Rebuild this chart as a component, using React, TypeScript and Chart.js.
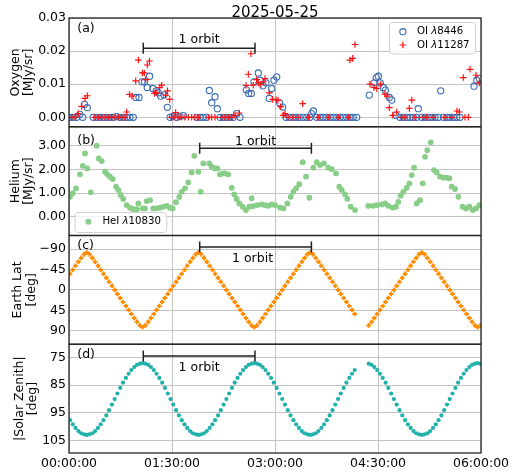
import React, { useEffect, useRef } from 'react';
import { Chart, registerables } from 'chart.js';
Chart.register(...registerables);

const W = 509;
const H = 472;
const LEFT = 69;
const RIGHT = 481;
const FONT = "'DejaVu Sans', 'Liberation Sans', sans-serif";
const GRID = '#c4c4c4';
const FRAME = '#262626';

// ---- time axis (minutes after 00:00:00) ----
const timeTickValues = [0, 90, 180, 270, 360];
const timeTickLabels = ['00:00:00', '01:30:00', '03:00:00', '04:30:00', '06:00:00'];

// ---- (a) Oxygen ----
const oxygenTicks = [0, 0.01, 0.02, 0.03];
const oxygenTickLabels = ['0.00', '0.01', '0.02', '0.03'];
const o8446Times = [
  0.9, 3.8, 6.7, 9.6, 12.0, 13.5, 16.0, 21.2, 24.2, 27.1,
  30.0, 32.9, 35.8, 38.7, 41.7, 44.6, 47.4, 50.4, 53.3, 56.2,
  58.5, 61.2, 63.8, 66.0, 68.4, 70.5, 73.4, 76.3, 78.0, 80.1,
  83.0, 85.9, 88.3, 90.6, 94.1, 97.0, 99.9, 111.6, 114.5, 117.4,
  120.3, 122.6, 124.7, 127.6, 129.6, 132.0, 134.8, 137.8, 140.7, 143.6,
  146.5, 149.4, 154.9, 157.0, 159.3, 161.7, 165.4, 166.9, 169.5, 172.1,
  175.0, 177.1, 179.1, 181.5, 184.1, 186.7, 189.6, 192.5, 195.5, 198.4,
  201.2, 204.7, 207.7, 210.6, 212.1, 213.5, 216.4, 219.3, 222.2, 225.2,
  228.1, 231.0, 233.9, 236.8, 239.7, 242.7, 245.5, 248.4, 251.4, 262.4,
  266.5, 268.5, 270.3, 272.0, 274.6, 276.4, 279.9, 282.0, 285.7, 289.2,
  292.1, 295.1, 298.0, 300.9, 303.8, 305.2, 308.2, 311.1, 314.0, 316.9,
  319.8, 322.7, 324.8, 327.1, 330.0, 332.9, 335.8, 338.8, 341.7, 353.9,
  356.3, 358.5,
];
const o8446Values = [
  0, 0, 0, 0.0009, 0, 0.0039, 0.0029, 0, 0, 0,
  0, 0, 0, 0, 0.0002, 0, 0, 0, 0, 0,
  0.006, 0.006, 0.0107, 0.0107, 0.009, 0.0124, 0.0087, 0.008, 0.0074, 0.0064,
  0.0068, 0.003, 0, 0.0003, 0, 0.0003, 0.0005, 0, 0, 0,
  0, 0.0081, 0.0044, 0.0062, 0.0026, 0, 0, 0, 0, 0,
  0.0011, 0, 0.0083, 0.0072, 0.0072, 0.0107, 0.0134, 0.0112, 0.0095, 0.0104,
  0.0057, 0.0087, 0.0112, 0.0122, 0.0043, 0.0031, 0, 0, 0, 0,
  0, 0, 0, 0, 0.0011, 0.0019, 0, 0, 0, 0,
  0, 0, 0, 0, 0, 0, 0, 0, 0, 0.0067,
  0.0104, 0.012, 0.0124, 0.0104, 0.009, 0.0082, 0.006, 0.0052, 0.0006, 0,
  0, 0, 0, 0, 0, 0.0026, 0, 0, 0, 0,
  0, 0, 0.008, 0, 0, 0, 0, 0, 0, 0.0094,
  0.0112, 0.0117,
];
const o11287Times = [
  2.4, 5.2, 8.1, 11.1, 14.0, 16.0, 22.7, 25.6, 28.6, 31.5,
  34.3, 37.3, 40.2, 43.1, 46.1, 48.9, 50.4, 52.9, 55.1, 58.3,
  60.6, 64.1, 65.8, 67.0, 68.4, 70.3, 74.7, 76.9, 79.3, 81.0,
  84.5, 86.1, 88.0, 89.6, 91.8, 93.2, 95.2, 97.9, 101.4, 104.3,
  107.2, 110.1, 113.0, 121.7, 124.7, 127.6, 133.4, 136.3, 139.2, 142.2,
  145.1, 148.8, 154.7, 156.7, 159.0, 161.0, 164.0, 165.4, 167.8, 169.8,
  171.3, 175.0, 178.0, 180.9, 182.6, 185.0, 187.3, 188.7, 191.4, 195.7,
  200.1, 204.2, 209.1, 217.8, 226.6, 235.3, 244.1, 245.5, 247.9, 249.9,
  263.0, 266.5, 268.9, 272.4, 276.1, 278.1, 279.9, 282.9, 286.4, 290.7,
  293.6, 297.4, 299.5, 302.3, 309.6, 312.6, 318.3, 328.6, 334.4, 339.0,
  341.1, 344.5, 346.0, 348.9, 350.4, 355.6, 358.5,
];
const o11287Values = [
  0, 0, 0.0011, 0.0033, 0.0057, 0.0065, 0, 0, 0, 0,
  0, 0, 0, 0, 0, 0, 0.0016, 0.0069, 0.0064, 0.011,
  0.0173, 0.0134, 0.0134, 0.0114, 0.0158, 0.017, 0.0072, 0.0074, 0.009, 0.0097,
  0.0067, 0.008, 0.0054, 0, 0, 0.0014, 0, 0, 0, 0,
  0, 0, 0, 0, 0, 0, 0, 0, 0, 0,
  0.0006, 0.0013, 0.0096, 0.013, 0.0192, 0.0097, 0.0114, 0.0104, 0.0099, 0.0107,
  0.0117, 0.0074, 0.0054, 0.0053, 0.0052, 0.0032, 0.0006, 0.0011, 0, 0,
  0, 0.0041, 0, 0, 0, 0, 0, 0.0173, 0.0178, 0.022,
  0.01, 0.009, 0.0087, 0.01, 0.007, 0.0064, 0.0029, 0.0006, 0.0016, 0,
  0, 0.0027, 0.0052, 0, 0, 0, 0, 0, 0, 0.0019,
  0.0016, 0.012, 0, 0, 0.0145, 0.0127, 0.0104,
];

// ---- (b) Helium ----
const heliumTicks = [0, 1, 2, 3];
const heliumTickLabels = ['0.00', '1.00', '2.00', '3.00'];
const heliumTimes = [
  0.9, 3.2, 6.1, 9.6, 12.0, 14.0, 16.0, 19.0, 24.2, 26.0,
  28.6, 31.5, 33.5, 35.8, 38.2, 41.1, 43.1, 45.2, 47.4, 50.4,
  53.3, 56.2, 59.2, 60.6, 64.4, 66.4, 67.9, 70.8, 73.7, 76.6,
  79.5, 82.4, 85.4, 88.3, 90.6, 93.5, 96.4, 98.5, 101.4, 104.2,
  107.2, 109.5, 113.0, 115.1, 117.4, 122.6, 124.7, 127.6, 129.6, 131.9,
  134.3, 136.3, 139.2, 142.2, 144.4, 146.5, 148.8, 151.8, 154.7, 157.6,
  159.6, 161.0, 164.5, 168.4, 171.3, 174.2, 177.1, 180.0, 184.4, 187.3,
  190.8, 193.7, 196.0, 198.4, 201.2, 204.2, 207.1, 210.0, 213.5, 216.4,
  219.3, 222.8, 226.6, 229.6, 233.3, 236.2, 238.3, 241.2, 243.2, 246.2,
  249.9, 261.5, 265.4, 268.9, 273.2, 276.1, 279.0, 282.9, 285.7, 287.7,
  289.8, 292.1, 295.1, 297.4, 299.5, 301.5, 303.8, 306.7, 309.1, 311.1,
  313.1, 316.1, 318.9, 321.3, 324.2, 327.1, 330.0, 332.3, 334.4, 337.3,
  340.2, 344.0, 346.9, 349.8, 352.8, 355.6, 358.5,
];
const heliumValues = [
  0.84, 0.99, 1.2, 1.79, 2.15, 2.67, 2.04, 1.03, 3.0, 2.46,
  2.35, 1.9, 1.79, 1.69, 1.59, 1.27, 1.13, 0.92, 0.75, 0.49,
  0.38, 0.32, 0.32, 0.56, 0.35, 0.35, 0.66, 0.7, 0.35, 0.35,
  0.38, 0.42, 0.46, 0.38, 0.35, 0.61, 0.84, 1.05, 1.2, 1.45,
  1.87, 2.57, 1.9, 1.05, 2.25, 2.25, 2.11, 2.04, 2.04, 1.79,
  1.83, 1.83, 1.79, 1.22, 0.94, 0.75, 0.56, 0.42, 0.28, 0.42,
  0.78, 0.45, 0.49, 0.52, 0.49, 0.46, 0.52, 0.49, 0.38, 0.35,
  0.56, 0.84, 1.05, 1.2, 1.37, 2.3, 1.69, 0.8, 2.07, 2.3,
  2.18, 2.25, 2.07, 2.01, 1.83, 1.27, 1.13, 0.94, 0.75, 0.42,
  0.28, 0.46, 0.46, 0.49, 0.52, 0.56, 0.46, 0.38, 0.42, 0.63,
  0.89, 1.05, 1.22, 1.41, 1.76, 2.07, 0.56, 0.7, 1.41, 2.53,
  2.81, 3.14, 1.97, 1.87, 1.69, 1.65, 1.65, 1.62, 1.27, 1.17,
  0.84, 0.42, 0.35, 0.42, 0.28, 0.35, 0.49,
];

// ---- (c) Earth latitude and (d) solar zenith, shared sample times ----
const orbitTimes = [
  0.9, 3.3, 5.7, 8.2, 10.6, 13.1, 15.5, 17.9, 20.4, 22.8, 25.3, 27.7, 30.1, 32.6, 35.0, 37.5, 39.9, 42.3, 44.8, 47.2,
  49.7, 52.1, 54.5, 57.0, 59.4, 61.9, 64.3, 66.7, 69.2, 71.6, 74.1, 76.5, 78.9, 81.4, 83.8, 86.3, 88.7, 91.1, 93.6, 96.0,
  98.5, 100.9, 103.3, 105.8, 108.2, 110.7, 113.1, 115.5, 118.0, 120.4, 122.9, 125.3, 127.7, 130.2, 132.6, 135.1, 137.5, 139.9, 142.4, 144.8,
  147.3, 149.7, 152.1, 154.6, 157.0, 159.5, 161.9, 164.3, 166.8, 169.2,
  171.7, 174.1, 176.5, 179.0, 181.4, 183.9, 186.3, 188.7, 191.2, 193.6, 196.1, 198.5, 200.9, 203.4, 205.8, 208.3, 210.7, 213.1, 215.6, 218.0,
  220.5, 222.9, 225.3, 227.8, 230.2, 232.7, 235.1, 237.5, 240.0, 242.4,
  244.9, 247.3, 249.7,
  261.9, 264.4, 266.8, 269.3, 271.7, 274.1, 276.6, 279.0, 281.5, 283.9, 286.3, 288.8, 291.2, 293.7, 296.1, 298.5, 301.0, 303.4, 305.9, 308.3,
  310.7, 313.2, 315.6, 318.1, 320.5, 322.9, 325.4, 327.8, 330.3, 332.7, 335.1, 337.6, 340.0, 342.5, 344.9, 347.3, 349.8, 352.2, 354.7, 357.1,
  359.5,
];
const latTicks = [-90, -45, 0, 45, 90];
const latTickLabels = ['\u221290', '\u221245', '0', '45', '90'];
const earthLat = [
  -35.7, -44.5, -53.3, -62.1, -70.6, -78.4,
  -82.6, -78.4, -70.6, -62.1, -53.3, -44.5, -35.7, -26.8, -17.8, -8.9, 0, 8.9, 17.8, 26.8, 35.7, 44.5, 53.3, 62.1, 70.6, 78.4,
  82.6, 78.4, 70.6, 62.1, 53.3, 44.5, 35.7, 26.8, 17.8, 8.9, 0, -8.9, -17.8, -26.8, -35.7, -44.5, -53.3, -62.1, -70.6, -78.4,
  -82.6, -78.4, -70.6, -62.1, -53.3, -44.5, -35.7, -26.8, -17.8, -8.9, 0, 8.9, 17.8, 26.8, 35.7, 44.5, 53.3, 62.1, 70.6, 78.4,
  82.6, 78.4, 70.6, 62.1, 53.3, 44.5, 35.7, 26.8, 17.8, 8.9, 0, -8.9, -17.8, -26.8, -35.7, -44.5, -53.3, -62.1, -70.6, -78.4,
  -82.6, -78.4, -70.6, -62.1, -53.3, -44.5, -35.7, -26.8, -17.8, -8.9, 0, 8.9, 17.8, 26.8, 35.7, 44.5, 53.3,
  78.4, 70.6, 62.1, 53.3, 44.5, 35.7, 26.8, 17.8, 8.9, 0, -8.9, -17.8, -26.8, -35.7, -44.5, -53.3, -62.1, -70.6, -78.4,
  -82.6, -78.4, -70.6, -62.1, -53.3, -44.5, -35.7, -26.8, -17.8, -8.9, 0, 8.9, 17.8, 26.8, 35.7, 44.5, 53.3, 62.1, 70.6, 78.4,
  82.6, 78.4,
];
const zenithTicks = [75, 85, 95, 105];
const zenithTickLabels = ['75', '85', '95', '105'];
const solarZenith = [
  97.6, 99.1, 100.4, 101.5, 102.3, 102.7,
  102.9, 102.7, 102.3, 101.5, 100.4, 99.1, 97.6, 95.9, 94.0, 92.0, 90.0, 88.0, 86.0, 84.1, 82.4, 80.9, 79.6, 78.5, 77.7, 77.3,
  77.1, 77.3, 77.7, 78.5, 79.6, 80.9, 82.4, 84.1, 86.0, 88.0, 90.0, 92.0, 94.0, 95.9, 97.6, 99.1, 100.4, 101.5, 102.3, 102.7,
  102.9, 102.7, 102.3, 101.5, 100.4, 99.1, 97.6, 95.9, 94.0, 92.0, 90.0, 88.0, 86.0, 84.1, 82.4, 80.9, 79.6, 78.5, 77.7, 77.3,
  77.1, 77.3, 77.7, 78.5, 79.6, 80.9, 82.4, 84.1, 86.0, 88.0, 90.0, 92.0, 94.0, 95.9, 97.6, 99.1, 100.4, 101.5, 102.3, 102.7,
  102.9, 102.7, 102.3, 101.5, 100.4, 99.1, 97.6, 95.9, 94.0, 92.0, 90.0, 88.0, 86.0, 84.1, 82.4, 80.9, 79.6,
  77.3, 77.7, 78.5, 79.6, 80.9, 82.4, 84.1, 86.0, 88.0, 90.0, 92.0, 94.0, 95.9, 97.6, 99.1, 100.4, 101.5, 102.3, 102.7,
  102.9, 102.7, 102.3, 101.5, 100.4, 99.1, 97.6, 95.9, 94.0, 92.0, 90.0, 88.0, 86.0, 84.1, 82.4, 80.9, 79.6, 78.5, 77.7, 77.3,
  77.1, 77.3,
];

// ---- "1 orbit" markers (minutes), one per panel ----
const orbitStart = [64.9, 114.2, 114.2, 64.9];
const orbitEnd = [162.5, 211.8, 211.8, 162.5];

const BLUE = '#3a6db5';
const RED = '#ff1010';
const GREEN = '#88cd88';
const ORANGE = '#ff8c00';
const TEAL = '#20b2aa';

function pts(xs: number[], ys: number[]) {
  return xs.map((x, i) => ({ x, y: ys[i] }));
}

function font(size: number) {
  return `${size}px ${FONT}`;
}

type LegendItem = { kind: 'circle' | 'cross' | 'dot'; color: string; pre: string; greek: string; post: string };

interface Panel {
  idx: number;
  top: number;
  bottom: number;
  yMin: number;
  yMax: number;
  reverse: boolean;
  ticks: number[];
  tickLabels: string[];
  showX: boolean;
  datasets: any[];
  label: string[];
  labelX: number[];
  letter: string;
  letterDy: number;
  bracketDy: number;
  textDy: number;
  textDx: number;
  legend?: { x: number; y: number; w: number; h: number; rowH: number; items: LegendItem[] };
  title?: string;
}

function drawMarker(ctx: CanvasRenderingContext2D, kind: string, color: string, x: number, y: number) {
  ctx.save();
  if (kind === 'circle') {
    ctx.strokeStyle = color;
    ctx.lineWidth = 1.1;
    ctx.beginPath();
    ctx.arc(x, y, 3.1, 0, Math.PI * 2);
    ctx.stroke();
  } else if (kind === 'cross') {
    ctx.strokeStyle = color;
    ctx.lineWidth = 1.2;
    ctx.beginPath();
    ctx.moveTo(x - 3.3, y);
    ctx.lineTo(x + 3.3, y);
    ctx.moveTo(x, y - 3.3);
    ctx.lineTo(x, y + 3.3);
    ctx.stroke();
  } else {
    ctx.fillStyle = color;
    ctx.beginPath();
    ctx.arc(x, y, 3.0, 0, Math.PI * 2);
    ctx.fill();
  }
  ctx.restore();
}

function roundRect(ctx: CanvasRenderingContext2D, x: number, y: number, w: number, h: number, r: number) {
  ctx.beginPath();
  ctx.moveTo(x + r, y);
  ctx.lineTo(x + w - r, y);
  ctx.quadraticCurveTo(x + w, y, x + w, y + r);
  ctx.lineTo(x + w, y + h - r);
  ctx.quadraticCurveTo(x + w, y + h, x + w - r, y + h);
  ctx.lineTo(x + r, y + h);
  ctx.quadraticCurveTo(x, y + h, x, y + h - r);
  ctx.lineTo(x, y + r);
  ctx.quadraticCurveTo(x, y, x + r, y);
  ctx.closePath();
}

function decoPlugin(p: Panel) {
  return {
    id: 'deco' + p.idx,
    afterDatasetsDraw(chart: any) {
      const { ctx, chartArea: a } = chart;
      ctx.save();
      ctx.strokeStyle = FRAME;
      ctx.lineWidth = 1.3;
      ctx.strokeRect(a.left, a.top, a.right - a.left, a.bottom - a.top);
      ctx.restore();
    },
    afterDraw(chart: any) {
      const { ctx, chartArea: a, scales } = chart;
      const xs = scales.x;
      ctx.save();
      ctx.fillStyle = '#000';
      ctx.font = font(12.5);
      ctx.textAlign = 'left';
      ctx.textBaseline = 'alphabetic';
      ctx.fillText(p.letter, a.left + 8.3, a.top + p.letterDy);

      // 1 orbit bracket
      const x0 = xs.getPixelForValue(orbitStart[p.idx]);
      const x1 = xs.getPixelForValue(orbitEnd[p.idx]);
      const by = a.top + p.bracketDy;
      ctx.strokeStyle = '#222';
      ctx.lineWidth = 1.5;
      ctx.beginPath();
      ctx.moveTo(x0, by);
      ctx.lineTo(x1, by);
      ctx.moveTo(x0, by - 5.5);
      ctx.lineTo(x0, by + 5.5);
      ctx.moveTo(x1, by - 5.5);
      ctx.lineTo(x1, by + 5.5);
      ctx.stroke();
      ctx.textAlign = 'center';
      ctx.fillText('1 orbit', (x0 + x1) / 2 + p.textDx, a.top + p.textDy);

      // y label (rotated, two lines)
      const cy = (a.top + a.bottom) / 2;
      ctx.textBaseline = 'middle';
      p.label.forEach((line, i) => {
        ctx.save();
        ctx.translate(p.labelX[i], cy);
        ctx.rotate(-Math.PI / 2);
        ctx.fillText(line, 0, 0);
        ctx.restore();
      });

      if (p.title) {
        ctx.font = font(15);
        ctx.textBaseline = 'alphabetic';
        ctx.textAlign = 'center';
        ctx.fillText(p.title, 275, 16.8);
      }

      if (p.legend) {
        const L = p.legend;
        ctx.fillStyle = 'rgba(255,255,255,0.8)';
        roundRect(ctx, L.x, L.y, L.w, L.h, 3);
        ctx.fill();
        ctx.strokeStyle = '#d0d0d0';
        ctx.lineWidth = 1;
        ctx.stroke();
        L.items.forEach((it, i) => {
          const yy = L.y + 9.2 + i * L.rowH;
          drawMarker(ctx, it.kind, it.color, L.x + 13.4, yy);
          ctx.fillStyle = '#000';
          ctx.textAlign = 'left';
          ctx.textBaseline = 'middle';
          let tx = L.x + 27.4;
          ctx.font = font(10.2);
          ctx.fillText(it.pre, tx, yy);
          tx += ctx.measureText(it.pre).width;
          ctx.font = `italic 10.2px ${FONT}`;
          ctx.fillText(it.greek, tx, yy);
          tx += ctx.measureText(it.greek).width;
          ctx.font = font(10.2);
          ctx.fillText(it.post, tx, yy);
        });
      }
      ctx.restore();
    },
  };
}

function findLabel(vals: number[], labels: string[], v: number) {
  const i = vals.findIndex((t) => Math.abs(t - v) < 1e-9);
  return i >= 0 ? labels[i] : '';
}

function buildConfig(p: Panel): any {
  const xH = p.showX ? 19 : 0;
  return {
    type: 'scatter',
    data: { datasets: p.datasets },
    options: {
      responsive: false,
      animation: false,
      devicePixelRatio: 1,
      events: [],
      layout: { padding: { left: 0, right: W - RIGHT, top: p.top, bottom: H - p.bottom - xH } },
      plugins: { legend: { display: false }, tooltip: { enabled: false }, title: { display: false } },
      scales: {
        x: {
          type: 'linear',
          min: 0,
          max: 360,
          afterBuildTicks: (s: any) => {
            s.ticks = timeTickValues.map((v) => ({ value: v }));
          },
          ticks: {
            display: p.showX,
            autoSkip: false,
            maxRotation: 0,
            padding: 3,
            color: '#000',
            font: { family: FONT, size: 12.5 },
            callback: (v: number) => findLabel(timeTickValues, timeTickLabels, v),
          },
          grid: { color: GRID, lineWidth: 1, drawTicks: false },
          border: { display: false },
          afterFit: (s: any) => {
            s.height = xH;
            s.paddingLeft = 0;
            s.paddingRight = 0;
          },
        },
        y: {
          type: 'linear',
          min: p.yMin,
          max: p.yMax,
          reverse: p.reverse,
          afterBuildTicks: (s: any) => {
            s.ticks = p.ticks.map((v) => ({ value: v }));
          },
          ticks: {
            autoSkip: false,
            padding: 3,
            color: '#000',
            font: { family: FONT, size: 12.5 },
            callback: (v: number) => findLabel(p.ticks, p.tickLabels, v),
          },
          grid: { color: GRID, lineWidth: 1, drawTicks: false },
          border: { display: false },
          afterFit: (s: any) => {
            s.width = LEFT;
            s.paddingTop = 0;
            s.paddingBottom = 0;
          },
        },
      },
    },
    plugins: [decoPlugin(p)],
  };
}

const panels: Panel[] = [
  {
    idx: 0,
    top: 18,
    bottom: 126.75,
    yMin: -0.00286,
    yMax: 0.03,
    reverse: false,
    ticks: oxygenTicks,
    tickLabels: oxygenTickLabels,
    showX: false,
    datasets: [
      {
        label: 'OI \u03bb11287',
        data: pts(o11287Times, o11287Values),
        pointStyle: 'cross',
        pointRadius: 3.3,
        pointBorderColor: RED,
        pointBorderWidth: 1.2,
        borderColor: RED,
        showLine: false,
      },
      {
        label: 'OI \u03bb8446',
        data: pts(o8446Times, o8446Values),
        pointStyle: 'circle',
        pointRadius: 3.1,
        pointBorderColor: BLUE,
        pointBackgroundColor: 'rgba(0,0,0,0)',
        pointBorderWidth: 1.1,
        borderColor: BLUE,
        showLine: false,
      },
    ],
    label: ['Oxygen', '[MJy/sr]'],
    labelX: [15.5, 29],
    letter: '(a)',
    letterDy: 13.7,
    bracketDy: 30.3,
    textDy: 25.3,
    textDx: 0,
    title: '2025-05-25',
    legend: {
      x: 389.5,
      y: 22.5,
      w: 86,
      h: 31.5,
      rowH: 13.3,
      items: [
        { kind: 'circle', color: BLUE, pre: 'OI ', greek: '\u03bb', post: '8446' },
        { kind: 'cross', color: RED, pre: 'OI ', greek: '\u03bb', post: '11287' },
      ],
    },
  },
  {
    idx: 1,
    top: 126.75,
    bottom: 235.5,
    yMin: -0.794,
    yMax: 3.8,
    reverse: false,
    ticks: heliumTicks,
    tickLabels: heliumTickLabels,
    showX: false,
    datasets: [
      {
        label: 'HeI \u03bb10830',
        data: pts(heliumTimes, heliumValues),
        pointStyle: 'circle',
        pointRadius: 2.9,
        pointBackgroundColor: GREEN,
        pointBorderWidth: 0,
        borderColor: GREEN,
        showLine: false,
      },
    ],
    label: ['Helium', '[MJy/sr]'],
    labelX: [16, 29],
    letter: '(b)',
    letterDy: 17.2,
    bracketDy: 21.6,
    textDy: 18.3,
    textDx: 0,
    legend: {
      x: 75,
      y: 212.5,
      w: 91.7,
      h: 20,
      rowH: 13,
      items: [{ kind: 'dot', color: GREEN, pre: 'HeI ', greek: '\u03bb', post: '10830' }],
    },
  },
  {
    idx: 2,
    top: 235.5,
    bottom: 344.25,
    yMin: -120,
    yMax: 120,
    reverse: true,
    ticks: latTicks,
    tickLabels: latTickLabels,
    showX: false,
    datasets: [
      {
        label: 'Earth Lat',
        data: pts(orbitTimes, earthLat),
        pointStyle: 'cross',
        pointRadius: 2.3,
        pointBorderColor: ORANGE,
        pointBorderWidth: 2.0,
        borderColor: ORANGE,
        showLine: false,
      },
    ],
    label: ['Earth Lat', '[deg]'],
    labelX: [17.5, 31.5],
    letter: '(c)',
    letterDy: 13.5,
    bracketDy: 11.4,
    textDy: 26.2,
    textDx: -3,
  },
  {
    idx: 3,
    top: 344.25,
    bottom: 453,
    yMin: 70.3,
    yMax: 109.4,
    reverse: true,
    ticks: zenithTicks,
    tickLabels: zenithTickLabels,
    showX: true,
    datasets: [
      {
        label: 'Solar Zenith',
        data: pts(orbitTimes, solarZenith),
        pointStyle: 'circle',
        pointRadius: 2.1,
        pointBackgroundColor: TEAL,
        pointBorderWidth: 0,
        borderColor: TEAL,
        showLine: false,
      },
    ],
    label: ['|Solar Zenith|', '[deg]'],
    labelX: [20, 33],
    letter: '(d)',
    letterDy: 14.2,
    bracketDy: 11.75,
    textDy: 26.3,
    textDx: 0,
  },
];

function PanelCanvas({ panel }: { panel: Panel }) {
  const ref = useRef<HTMLCanvasElement | null>(null);
  useEffect(() => {
    if (!ref.current) return;
    const chart = new Chart(ref.current, buildConfig(panel));
    return () => chart.destroy();
  }, [panel]);
  return (
    <canvas
      ref={ref}
      width={W}
      height={H}
      style={{ position: 'absolute', left: 0, top: 0, width: W, height: H }}
    />
  );
}

export default function App() {
  return (
    <div style={{ position: 'fixed', left: 0, top: 0, width: W, height: H, background: '#fff', overflow: 'hidden' }}>
      {panels.map((p) => (
        <PanelCanvas key={p.idx} panel={p} />
      ))}
    </div>
  );
}
